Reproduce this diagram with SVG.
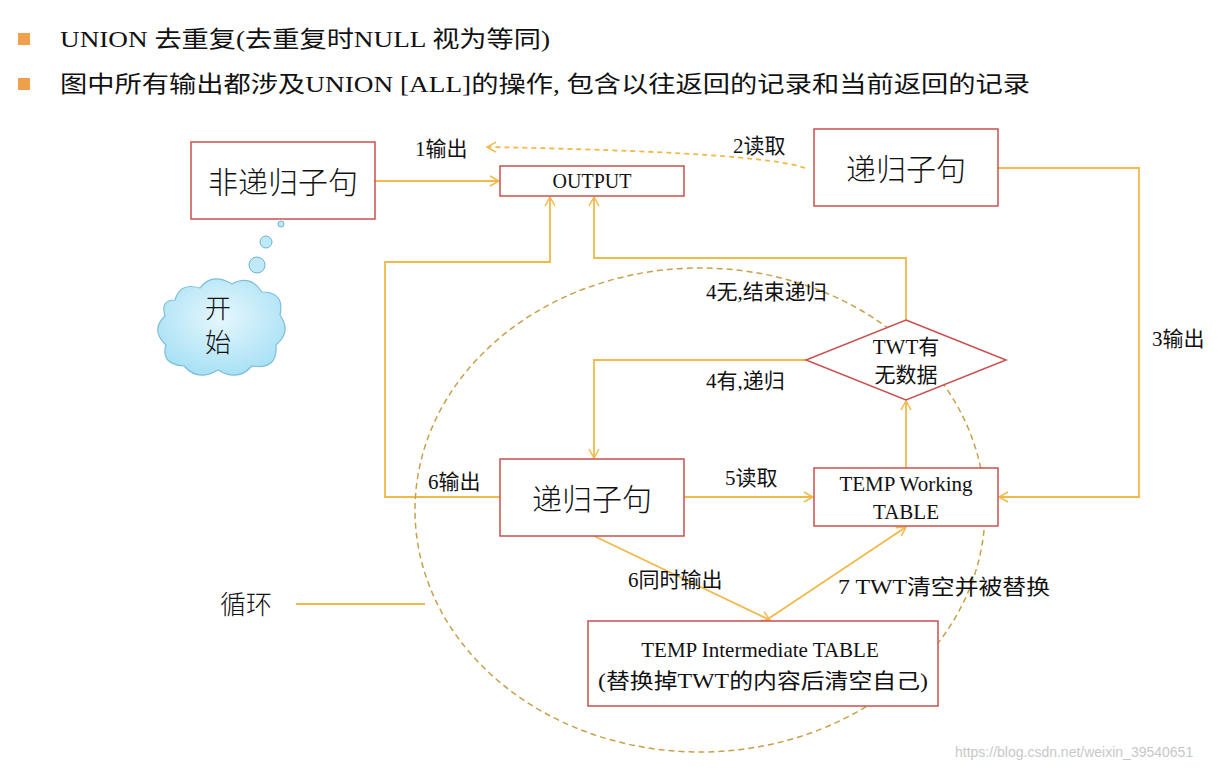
<svg xmlns="http://www.w3.org/2000/svg" width="1232" height="770" viewBox="0 0 1232 770">
<defs>
<marker id="a" markerWidth="12" markerHeight="12" refX="10" refY="6" orient="auto" markerUnits="userSpaceOnUse"><path d="M1,1 L10,6 L1,11" fill="none" stroke="#f2b94a" stroke-width="1.5"/></marker>
<radialGradient id="cg" cx="0.5" cy="0.4" r="0.6"><stop offset="0" stop-color="#e6f7fd"/><stop offset="1" stop-color="#a9e1f5"/></radialGradient>
</defs>
<style>
.box{fill:#fff;stroke:#c9504f;stroke-width:1.5}
.ln{fill:none;stroke:#f2b94a;stroke-width:1.8}
.t{font-family:"Liberation Serif","Noto Sans CJK SC",serif;fill:#111}
.s{font-family:"Noto Sans CJK SC",sans-serif;fill:#111;font-weight:300}
</style>
<rect width="1232" height="770" fill="#fff"/>
<rect x="18" y="33" width="12" height="12" fill="#f0a04b"/>
<rect x="18" y="78" width="12" height="12" fill="#f0a04b"/>
<text class="t" x="60" y="47" font-size="23" textLength="490" lengthAdjust="spacingAndGlyphs">UNION 去重复(去重复时NULL 视为等同)</text>
<text class="t" x="60" y="92" font-size="23" textLength="970" lengthAdjust="spacingAndGlyphs">图中所有输出都涉及UNION [ALL]的操作, 包含以往返回的记录和当前返回的记录</text>
<g id="connectors">
<path class="ln" d="M805,168 Q760,152 487,147" stroke-dasharray="5,4" marker-end="url(#a)"/>
<path class="ln" d="M375,181 H499" marker-end="url(#a)"/>
<path class="ln" d="M500,497 H385 V262 H550 V197" marker-end="url(#a)"/>
<path class="ln" d="M906,320 V258 H594 V197" marker-end="url(#a)"/>
<path class="ln" d="M806,360 H594 V458" marker-end="url(#a)"/>
<path class="ln" d="M684,497 H813" marker-end="url(#a)"/>
<path class="ln" d="M906,468 V401" marker-end="url(#a)"/>
<path class="ln" d="M998,168 H1139 V497 H999" marker-end="url(#a)"/>
<path class="ln" d="M594,536 L770,620" marker-end="url(#a)"/>
<path class="ln" d="M765,621 L906,527" marker-end="url(#a)"/>
<path class="ln" d="M296,604 H425"/>
<ellipse cx="700" cy="510" rx="285" ry="242" fill="none" stroke="#c9a04a" stroke-width="1.5" stroke-dasharray="6,4"/>
</g>
<g class="t" font-size="21">
<text x="415" y="156">1输出</text>
<text x="733" y="153">2读取</text>
<text x="706" y="299">4无,结束递归</text>
<text x="706" y="388">4有,递归</text>
<text x="725" y="485">5读取</text>
<text x="1152" y="346">3输出</text>
<text x="428" y="489">6输出</text>
<text x="628" y="587">6同时输出</text>
<text x="838" y="594" textLength="212" lengthAdjust="spacingAndGlyphs">7 TWT清空并被替换</text>
</g>
<g id="n1"><rect class="box" x="191" y="142" width="184" height="77"/><text class="s" x="283" y="193" font-size="30" text-anchor="middle">非递归子句</text></g>
<g id="n2"><rect class="box" x="500" y="166" width="184" height="30"/><text class="t" x="592" y="188" font-size="20" text-anchor="middle">OUTPUT</text></g>
<g id="n3"><rect class="box" x="814" y="129" width="184" height="77"/><text class="s" x="906" y="180" font-size="30" text-anchor="middle">递归子句</text></g>
<g id="n4"><path d="M906,320 L1006,360 L906,400 L806,360 Z" class="box"/><text class="t" x="906" y="354" font-size="21" text-anchor="middle">TWT有</text><text class="t" x="906" y="382" font-size="21" text-anchor="middle">无数据</text></g>
<g id="n5"><rect class="box" x="500" y="459" width="184" height="77"/><text class="s" x="592" y="510" font-size="30" text-anchor="middle">递归子句</text></g>
<g id="n6"><rect class="box" x="814" y="468" width="184" height="58"/><text class="t" x="906" y="491" font-size="21" text-anchor="middle">TEMP Working</text><text class="t" x="906" y="519" font-size="21" text-anchor="middle">TABLE</text></g>
<g id="n7"><rect class="box" x="588" y="621" width="350" height="85"/><text class="t" x="760" y="657" font-size="21" text-anchor="middle">TEMP Intermediate  TABLE</text><text class="t" x="763" y="688" font-size="21" text-anchor="middle" textLength="330" lengthAdjust="spacingAndGlyphs">(替换掉TWT的内容后清空自己)</text></g>
<g id="start">
<circle cx="281" cy="224" r="3" fill="#bfe9f8" stroke="#6fb3cf"/>
<circle cx="266" cy="242" r="6" fill="#bfe9f8" stroke="#6fb3cf"/>
<circle cx="257" cy="265" r="8" fill="#bfe9f8" stroke="#6fb3cf"/>
<path d="M175,300 Q180,282 200,288 Q212,272 232,284 Q250,274 262,292 Q285,292 280,315 Q292,332 276,345 Q278,370 252,366 Q238,382 218,370 Q198,382 184,366 Q160,364 166,345 Q150,330 165,316 Q160,300 175,300 Z" fill="url(#cg)" stroke="#7cbfd9" stroke-width="1.2"/>
<text class="s" x="218" y="318" font-size="26" text-anchor="middle">开</text>
<text class="s" x="218" y="352" font-size="26" text-anchor="middle">始</text>
</g>
<text class="s" x="220" y="614" font-size="26">循环</text>
<text x="955" y="757" font-family="Liberation Sans,sans-serif" font-size="14" fill="#c8c8c8">https://blog.csdn.net/weixin_39540651</text>
</svg>
